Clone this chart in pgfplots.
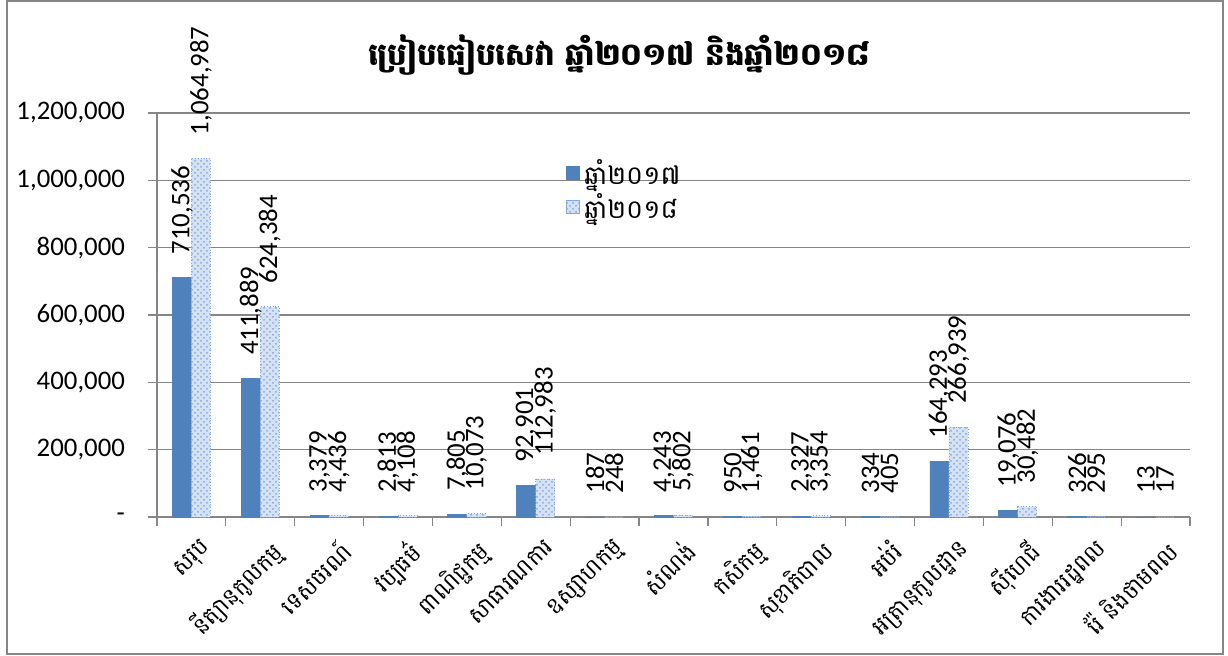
\documentclass[border=0pt]{standalone}
\usepackage{pgfplots}
\pgfplotsset{compat=1.18}
\usepackage{pgfplotstable}
\usetikzlibrary{patterns}
\usepackage{fontspec}
\setmainfont{Carlito}
\newfontfamily\kh[Script=Khmer]{Battambang}
\definecolor{b17}{RGB}{79,129,189}
\definecolor{p18}{RGB}{130,170,222}
\definecolor{f18}{RGB}{214,226,244}
\definecolor{gridc}{RGB}{134,134,134}

\pgfplotstableread{
x y
0 710536
1 411889
2 3379
3 2813
4 7805
5 92901
6 187
7 4243
8 950
9 2327
10 334
11 164293
12 19076
13 326
14 13
}\dataA
\pgfplotstableread{
x y
0 1064987
1 624384
2 4436
3 4108
4 10073
5 112983
6 248
7 5802
8 1461
9 3354
10 405
11 266939
12 30482
13 295
14 17
}\dataB

\begin{document}
\begin{tikzpicture}
\useasboundingbox (-78.5pt,-69.5pt) rectangle (535.5pt,258.5pt);
\draw[gridc, line width=0.6pt] (-75pt,-68.5pt) rectangle (533pt,258pt);
\begin{axis}[
  scale only axis,
  width=516.5pt, height=202pt,
  at={(0,0)}, anchor=south west,
  xmin=-0.5, xmax=14.5,
  ymin=0, ymax=1200000,
  scaled y ticks=false,
  /pgf/number format/assume math mode=true,
  axis lines*=left,
  axis line style={-, draw=gridc, line width=0.6pt},
  ymajorgrids,
  grid style={draw=gridc, line width=0.6pt},
  ytick={0,200000,400000,600000,800000,1000000,1200000},
  yticklabels={-,{200,000},{400,000},{600,000},{800,000},{1,000,000},{1,200,000}},
  yticklabel style={font=\fontsize{13.4}{16}\selectfont, xshift=-8pt},
  tick align=outside,
  major tick length=4.5pt,
  minor tick length=4.5pt,
  xtick={0,...,14},
  major x tick style={draw=none},
  minor xtick={-0.5,0.5,...,14.5},
  minor tick style={draw=gridc, line width=0.6pt},
  major y tick style={draw=gridc, line width=0.6pt},
  xticklabels={សរុប,នីត្យានុកូលកម្ម,ទេសចរណ៍,វប្បធម៌,ពាណិជ្ជកម្ម,សាធារណការ,ឧស្សាហកម្ម,សំណង់,កសិកម្ម,សុខាភិបាល,អប់រំ,អត្រានុកូលដ្ឋាន,ស៊ីហេជី,ការងាររដ្ឋពល,រ៉ែ និងថាមពល},
  xticklabel style={font=\kh\fontsize{11.5}{13}\selectfont, rotate=45, anchor=north east, inner sep=1pt, yshift=-6pt},
  ybar,
  bar width=0.276,
  point meta=rawy,
  nodes near coords={\pgfmathprintnumber[fixed,precision=0,1000 sep={,},assume math mode=true]{\pgfplotspointmeta}},
  every node near coord/.append style={font=\fontsize{13.4}{16}\selectfont, rotate=90, anchor=west, inner xsep=11.5pt, inner ysep=0pt},
  legend style={draw=none, fill=none, at={(0.39,0.905)}, anchor=north west, font=\kh\fontsize{13}{15}\selectfont, row sep=-1pt},
  legend cell align=left,
  legend image code/.code={\draw[#1, solid] (0pt,-3pt) rectangle (6.5pt,3.5pt);},
  clip=false,
]
\addplot[bar shift=-0.138, fill=b17, draw=b17] table[x=x,y=y] {\dataA};
\addplot[bar shift=0.138, fill=f18, draw=p18, densely dotted, postaction={pattern=crosshatch dots, pattern color=p18}] table[x=x,y=y] {\dataB};
\legend{ឆ្នាំ២០១៧,ឆ្នាំ២០១៨}
\end{axis}
\node[font=\kh\bfseries\fontsize{15.5}{18}\selectfont] at (231pt,231pt) {ប្រៀបធៀបសេវា ឆ្នាំ២០១៧ និងឆ្នាំ២០១៨};
\end{tikzpicture}
\end{document}
